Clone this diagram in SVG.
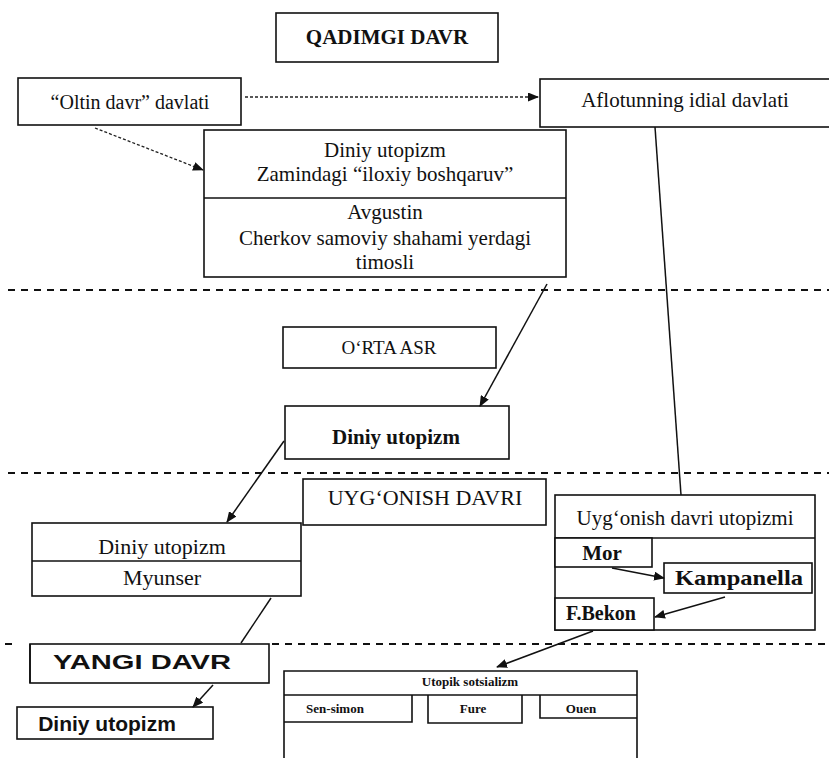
<svg xmlns="http://www.w3.org/2000/svg" width="829" height="758" viewBox="0 0 829 758">
<style>
.b{fill:#fff;stroke:#111;stroke-width:1.6}
.t{font-family:"Liberation Serif","Times New Roman",serif;fill:#111;text-anchor:middle}
.tb{font-family:"Liberation Serif","Times New Roman",serif;fill:#111;text-anchor:middle;font-weight:bold}
.ts{font-family:"Liberation Sans",Arial,sans-serif;fill:#111;text-anchor:middle;font-weight:bold}
.sep{stroke:#111;stroke-width:2;stroke-dasharray:7 6;fill:none}
.c{stroke:#111;stroke-width:1.5;fill:none}
.cd{stroke:#222;stroke-width:1.3;stroke-dasharray:3 2;fill:none}
.l{stroke:#111;stroke-width:1.6;fill:none}
</style>
<defs>
<marker id="ah" markerUnits="userSpaceOnUse" markerWidth="11" markerHeight="9" refX="10" refY="4.5" orient="auto">
<path d="M0,0 L11,4.5 L0,9 z" fill="#111"/>
</marker>
</defs>
<rect width="829" height="758" fill="#fff"/>

<g id="separators">
<line class="sep" x1="8" y1="290" x2="829" y2="290"/>
<line class="sep" x1="8" y1="473" x2="829" y2="473"/>
<line class="sep" x1="272" y1="644" x2="829" y2="644"/>
<line class="sep" x1="5" y1="644" x2="14" y2="644"/>
</g>

<g id="qadimgi">
<rect class="b" x="276" y="13" width="222" height="49"/>
<text class="tb" x="387" y="44" font-size="21">QADIMGI DAVR</text>
</g>

<g id="oltin">
<rect class="b" x="18" y="78" width="223" height="47"/>
<text class="t" x="130" y="109" font-size="20">“Oltin davr” davlati</text>
</g>

<g id="aflotun">
<rect class="b" x="540" y="79" width="300" height="48"/>
<text class="t" x="685" y="107" font-size="21">Aflotunning idial davlati</text>
</g>

<g id="diniy-qadimgi">
<rect class="b" x="204" y="130" width="362" height="147"/>
<line class="l" x1="204" y1="198" x2="566" y2="198"/>
<text class="t" x="385" y="157" font-size="21">Diniy utopizm</text>
<text class="t" x="385" y="181" font-size="21">Zamindagi “iloxiy boshqaruv”</text>
<text class="t" x="385" y="219" font-size="21">Avgustin</text>
<text class="t" x="385" y="245" font-size="21">Cherkov samoviy shahami yerdagi</text>
<text class="t" x="385" y="269" font-size="21">timosli</text>
</g>

<g id="orta-asr">
<rect class="b" x="283" y="327" width="213" height="41"/>
<text class="t" x="389" y="354" font-size="19">O‘RTA ASR</text>
</g>

<g id="diniy-orta">
<rect class="b" x="285" y="406" width="224" height="53"/>
<text class="tb" x="396" y="444" font-size="21">Diniy utopizm</text>
</g>

<g id="uygonish">
<rect class="b" x="303" y="479" width="243" height="46"/>
<text class="t" x="425" y="505" font-size="22">UYG‘ONISH DAVRI</text>
</g>

<g id="diniy-myunser">
<rect class="b" x="32" y="523" width="269" height="73"/>
<line class="l" x1="32" y1="561" x2="301" y2="561"/>
<text class="t" x="162" y="554" font-size="22">Diniy utopizm</text>
<text class="t" x="162" y="585" font-size="22">Myunser</text>
</g>

<g id="uygonish-utopizmi">
<rect class="b" x="555" y="495" width="260" height="135"/>
<line class="l" x1="555" y1="538" x2="815" y2="538" stroke-width="2.2"/>
<text class="t" x="685" y="525" font-size="21">Uyg‘onish davri utopizmi</text>
</g>

<g id="mor">
<rect class="b" x="555" y="538" width="97" height="29"/>
<text class="tb" x="602" y="560" font-size="21">Mor</text>
</g>

<g id="kampanella">
<rect class="b" x="664" y="563" width="148" height="30"/>
<text class="tb" x="739" y="585" font-size="21" textLength="128" lengthAdjust="spacingAndGlyphs">Kampanella</text>
</g>

<g id="fbekon">
<rect class="b" x="555" y="598" width="99" height="32"/>
<text class="tb" x="601" y="620" font-size="20">F.Bekon</text>
</g>

<g id="yangi">
<rect class="b" x="30" y="644" width="239" height="39"/>
<line class="l" x1="30" y1="644" x2="30" y2="683" stroke-width="2.4"/>
<text class="ts" x="142" y="669" font-size="20" textLength="178" lengthAdjust="spacingAndGlyphs">YANGI  DAVR</text>
</g>

<g id="diniy-yangi">
<rect class="b" x="17" y="707" width="196" height="32"/>
<text class="ts" x="107" y="731" font-size="21">Diniy utopizm</text>
</g>

<g id="utopik">
<path class="l" d="M284,760 V671 H637 V760"/>
<line class="l" x1="284" y1="695" x2="637" y2="695"/>
<path class="l" d="M284,722 H412 V695"/>
<path class="l" d="M428,695 V723 H522 V695"/>
<path class="l" d="M540,695 V718 H637"/>
<text class="tb" x="470" y="686" font-size="13">Utopik sotsializm</text>
<text class="tb" x="335" y="713" font-size="13">Sen-simon</text>
<text class="tb" x="473" y="713" font-size="13">Fure</text>
<text class="tb" x="581" y="713" font-size="13">Ouen</text>
</g>

<g id="connectors">
<line class="cd" x1="245" y1="97" x2="538" y2="97" marker-end="url(#ah)"/>
<line class="cd" x1="95" y1="128" x2="203" y2="170" marker-end="url(#ah)"/>
<line class="c" x1="655" y1="127" x2="681" y2="495"/>
<line class="c" x1="547" y1="284" x2="480" y2="406" marker-end="url(#ah)"/>
<line class="c" x1="284" y1="441" x2="227" y2="522" marker-end="url(#ah)"/>
<line class="c" x1="271" y1="598" x2="241" y2="643"/>
<line class="c" x1="213" y1="685" x2="193" y2="707" marker-end="url(#ah)"/>
<line class="c" x1="612" y1="568" x2="664" y2="578" marker-end="url(#ah)"/>
<line class="c" x1="725" y1="597" x2="655" y2="617" marker-end="url(#ah)"/>
<line class="c" x1="593" y1="631" x2="497" y2="667" marker-end="url(#ah)"/>
</g>
</svg>
